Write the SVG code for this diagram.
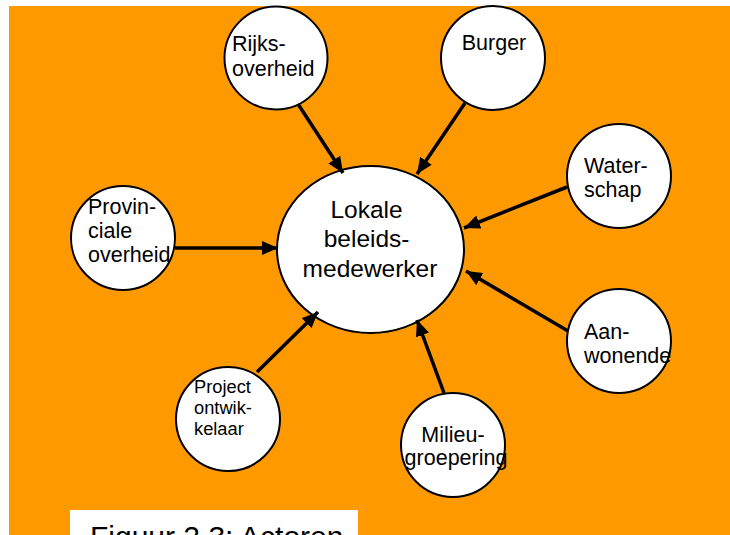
<svg xmlns="http://www.w3.org/2000/svg" width="730" height="535" viewBox="0 0 730 535">
  <style>
    .node { fill: #ffffff; stroke: #000000; stroke-width: 2; }
    .lbl { font-family: "Liberation Sans", Arial, sans-serif; font-size: 21.5px; fill: #000000; }
    .big { font-size: 24.5px; }
    .small { font-size: 18.3px; }
    .edge { stroke: #000000; stroke-width: 3.5; fill: none; marker-end: url(#head); }
  </style>
  <defs>
    <marker id="head" viewBox="0 0 16 14" refX="16" refY="7" markerWidth="16" markerHeight="14" markerUnits="userSpaceOnUse" orient="auto">
      <path d="M0,0 L16,7 L0,14 Z" fill="#000000"/>
    </marker>
  </defs>

  <rect x="0" y="0" width="730" height="535" fill="#ffffff"/>
  <rect x="9" y="6" width="721" height="529" fill="#ff9900"/>

  <g id="lokale">
    <ellipse class="node" cx="370.5" cy="249.5" rx="93.5" ry="83.5"/>
    <text class="lbl big" text-anchor="middle">
      <tspan x="370" y="218">Lokale</tspan>
      <tspan x="370" y="247">beleids-</tspan>
      <tspan x="370" y="277">medewerker</tspan>
    </text>
  </g>

  <g id="rijksoverheid">
    <circle class="node" cx="276" cy="58" r="51.5"/>
    <text class="lbl">
      <tspan x="232" y="51">Rijks-</tspan>
      <tspan x="232" y="76">overheid</tspan>
    </text>
  </g>

  <g id="burger">
    <circle class="node" cx="493" cy="58" r="52"/>
    <text class="lbl" x="494" y="50" text-anchor="middle">Burger</text>
  </g>

  <g id="waterschap">
    <circle class="node" cx="619" cy="176" r="52"/>
    <text class="lbl">
      <tspan x="584" y="173">Water-</tspan>
      <tspan x="584" y="197">schap</tspan>
    </text>
  </g>

  <g id="provinciale">
    <circle class="node" cx="123" cy="238" r="52"/>
    <text class="lbl">
      <tspan x="88" y="214">Provin-</tspan>
      <tspan x="88" y="238">ciale</tspan>
      <tspan x="88" y="262">overheid</tspan>
    </text>
  </g>

  <g id="aanwonende">
    <circle class="node" cx="619" cy="341" r="52"/>
    <text class="lbl">
      <tspan x="584" y="339">Aan-</tspan>
      <tspan x="584" y="363">wonende</tspan>
    </text>
  </g>

  <g id="milieugroepering">
    <circle class="node" cx="453" cy="445" r="52"/>
    <text class="lbl" text-anchor="middle">
      <tspan x="456" y="442">Milieu-</tspan>
      <tspan x="456" y="465">groepering</tspan>
    </text>
  </g>

  <g id="projectontwikkelaar">
    <circle class="node" cx="228" cy="419" r="52"/>
    <text class="lbl small">
      <tspan x="194" y="393">Project</tspan>
      <tspan x="194" y="414">ontwik-</tspan>
      <tspan x="194" y="435">kelaar</tspan>
    </text>
  </g>

  <g id="connectors">
    <line class="edge" x1="298" y1="104" x2="343" y2="173"/>
    <line class="edge" x1="465" y1="103" x2="417" y2="174"/>
    <line class="edge" x1="567" y1="187" x2="464" y2="228"/>
    <line class="edge" x1="175" y1="248" x2="278" y2="248"/>
    <line class="edge" x1="568" y1="331" x2="466" y2="271"/>
    <line class="edge" x1="444" y1="393" x2="417" y2="320"/>
    <line class="edge" x1="257" y1="372" x2="318" y2="312"/>
  </g>

  <!-- caption panel; the page edge crops its lower part -->
  <g id="caption">
    <rect x="70" y="510" width="288" height="30" fill="#ffffff"/>
    <text class="lbl" x="90" y="547" style="font-size:30px">Figuur 2.3: Actoren</text>
  </g>
</svg>
